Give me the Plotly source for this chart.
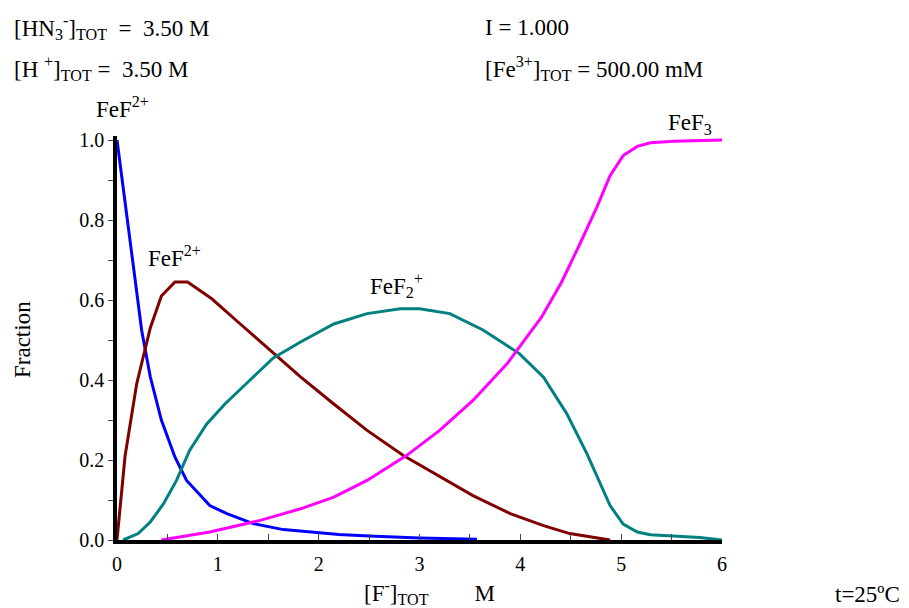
import plotly.graph_objects as go

# Data
fe_x = [0, 0.12, 0.245, 0.33, 0.44, 0.575, 0.69, 0.81, 0.92, 1.09, 1.35, 1.65, 1.91, 2.2, 2.5, 3.0, 3.57]
fe_y = [1.0, 0.76, 0.524, 0.408, 0.30, 0.207, 0.149, 0.116, 0.086, 0.066, 0.041, 0.026, 0.02, 0.014, 0.01, 0.005, 0.002]

fef_x = [0, 0.08, 0.195, 0.33, 0.44, 0.575, 0.70, 0.82, 0.94, 1.2, 1.5, 1.82, 2.15, 2.48, 2.84, 3.20, 3.53, 3.90, 4.23, 4.49, 4.70, 4.89]
fef_y = [0, 0.21, 0.39, 0.53, 0.61, 0.645, 0.645, 0.625, 0.603, 0.545, 0.478, 0.408, 0.34, 0.274, 0.211, 0.158, 0.111, 0.066, 0.036, 0.016, 0.007, 0.0]

fef2_x = [0.06, 0.21, 0.33, 0.46, 0.59, 0.72, 0.89, 1.07, 1.32, 1.55, 1.82, 2.15, 2.48, 2.81, 3.0, 3.30, 3.63, 3.99, 4.23, 4.46, 4.66, 4.89, 5.02, 5.16, 5.29, 5.52, 5.78, 6.0]
fef2_y = [0, 0.016, 0.045, 0.09, 0.149, 0.224, 0.29, 0.34, 0.40, 0.455, 0.495, 0.54, 0.566, 0.578, 0.578, 0.566, 0.525, 0.466, 0.407, 0.316, 0.216, 0.086, 0.04, 0.02, 0.013, 0.009, 0.006, 0.0]

fef3_x = [0.44, 0.92, 1.42, 1.82, 2.15, 2.48, 2.87, 3.20, 3.53, 3.87, 4.21, 4.41, 4.59, 4.76, 4.89, 5.02, 5.16, 5.29, 5.52, 6.0]
fef3_y = [0, 0.02, 0.049, 0.078, 0.107, 0.149, 0.211, 0.274, 0.349, 0.441, 0.557, 0.645, 0.74, 0.833, 0.911, 0.961, 0.984, 0.993, 0.997, 1.0]

x_ticks = [0, 1, 2, 3, 4, 5, 6]
y_ticks = [0.0, 0.2, 0.4, 0.6, 0.8, 1.0]
y_tick_text = ["0.0", "0.2", "0.4", "0.6", "0.8", "1.0"]

FONT = "Liberation Serif, Times New Roman, serif"
OFF = 8  # page body margin in the browser

# plot area in reference pixels: x 117..722, y(0)=540, y(1)=140
L, R, Y0, Y1 = 117, 722, 540, 140

fig = go.Figure()
series = [
    (fe_x, fe_y, "#0000FF"),
    (fef_x, fef_y, "#800000"),
    (fef2_x, fef2_y, "#008080"),
    (fef3_x, fef3_y, "#FF00FF"),
]
for xs, ys, col in series:
    fig.add_trace(go.Scatter(x=xs, y=ys, mode="lines",
                             line=dict(color=col, width=3), showlegend=False,
                             hoverinfo="skip"))

W, H = 909 - OFF, 608 - OFF
top_px = Y0 - 400 * 1.01  # y range top at 1.01
fig.update_layout(
    width=W, height=H,
    margin=dict(l=L - OFF, r=W - (R - OFF), t=top_px - OFF, b=H - (Y0 - OFF), pad=0),
    paper_bgcolor="white", plot_bgcolor="white",
    font=dict(family=FONT, size=20, color="black"),
    showlegend=False,
)
fig.update_xaxes(
    range=[0, 6], tickvals=x_ticks, ticktext=[str(v) for v in x_ticks],
    ticks="inside", ticklen=6, tickwidth=1, tickcolor="#444",
    minor=dict(dtick=0.5, tick0=0, ticks="inside", ticklen=6, tickwidth=1, tickcolor="#444"),
    showline=True, linecolor="black", linewidth=3.5,
    showgrid=False, zeroline=False, ticklabelstandoff=3,
    tickfont=dict(family=FONT, size=20, color="black"),
)
fig.update_yaxes(
    range=[0, 1.01], tickvals=y_ticks, ticktext=y_tick_text,
    ticks="outside", ticklen=5, tickwidth=1, tickcolor="#444",
    minor=dict(dtick=0.1, tick0=0, ticks="outside", ticklen=5, tickwidth=1, tickcolor="#444"),
    showline=True, linecolor="black", linewidth=3.5,
    showgrid=False, zeroline=False,
    tickfont=dict(family=FONT, size=20, color="black"),
)

plot_h = Y0 - top_px

annots = [
    # (text, ref-pixel x (left), ref-pixel y (middle), size)
    ("[HN<sub>3</sub><sup>-</sup>]<sub>TOT</sub>  =  3.50 M", 12, 27, 23),
    ("[H <sup>+</sup>]<sub>TOT</sub> =  3.50 M", 12, 68, 23),
    ("I = 1.000", 483, 27, 23),
    ("[Fe<sup>3+</sup>]<sub>TOT</sub> = 500.00 mM", 483, 68, 23),
    ("FeF<sup>2+</sup>", 94, 108, 23),
    ("FeF<sup>2+</sup>", 146, 256, 23),
    ("FeF<sub>2</sub><sup>+</sup>", 368, 285, 23),
    ("FeF<sub>3</sub>", 666, 124, 23),
    ("[F<sup>-</sup>]<sub>TOT</sub>        M", 362, 592, 23),
    ("t=25ºC", 833, 594, 23),
]
for text, px, py, size in annots:
    fig.add_annotation(
        text=text, x=(px - L) / (R - L), y=(Y0 - py) / plot_h,
        xref="paper", yref="paper", xanchor="left", yanchor="middle",
        showarrow=False, font=dict(family=FONT, size=size, color="black"),
    )

fig.add_annotation(
    text="Fraction", x=(22 - L) / (R - L), y=(Y0 - 340) / plot_h,
    xref="paper", yref="paper", xanchor="center", yanchor="middle",
    textangle=-90, showarrow=False, font=dict(family=FONT, size=23, color="black"),
)

fig.write_html("out.html")
